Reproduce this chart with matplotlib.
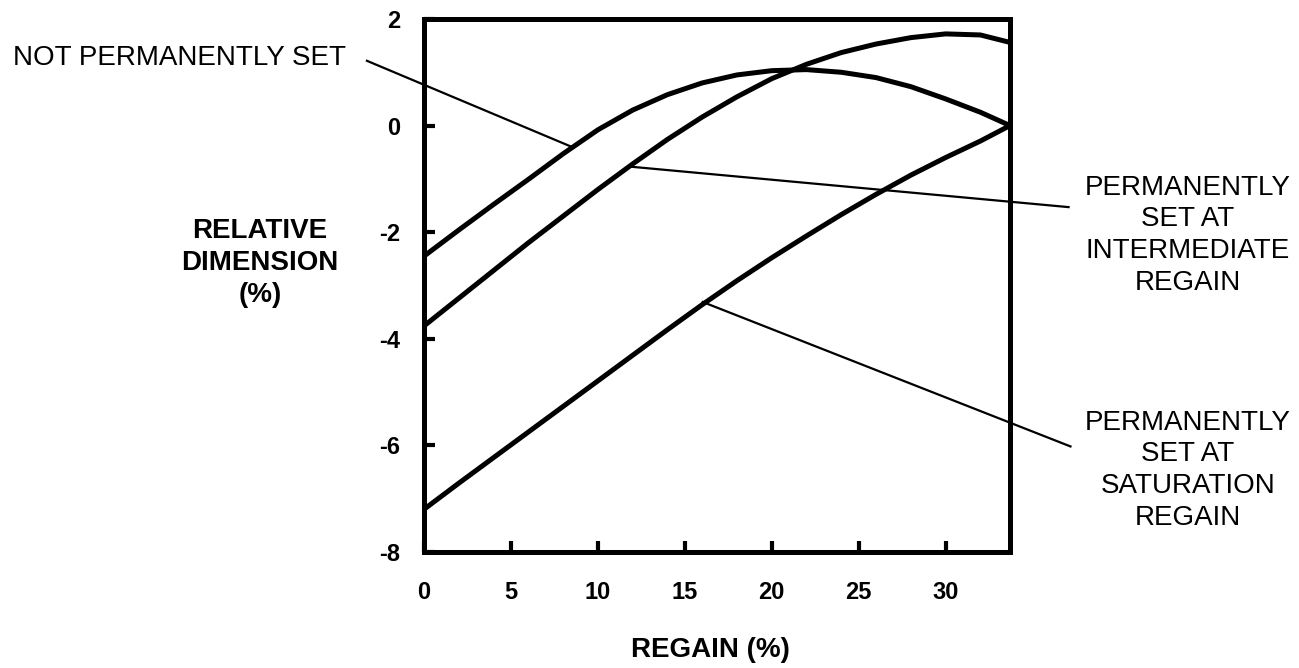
import numpy as np
import matplotlib.pyplot as plt

plt.rcParams['font.family'] = ['Liberation Sans', 'DejaVu Sans']
plt.rcParams['axes.unicode_minus'] = False

# regain (%) and relative dimension (%)
regain = [0, 2, 4, 6, 8, 10, 12, 14, 16, 18, 20, 22, 24, 26, 28, 30, 32, 33.7]
not_set = [-2.45, -1.96, -1.48, -1.01, -0.53, -0.08, 0.29, 0.58, 0.8, 0.95,
           1.03, 1.05, 1.0, 0.9, 0.73, 0.5, 0.25, 0.0]
set_intermediate = [-3.76, -3.24, -2.72, -2.2, -1.7, -1.2, -0.72, -0.26, 0.16, 0.54,
                    0.88, 1.15, 1.37, 1.53, 1.65, 1.72, 1.7, 1.56]
set_saturation = [-7.2, -6.71, -6.23, -5.75, -5.27, -4.79, -4.31, -3.83, -3.36, -2.91,
                  -2.48, -2.07, -1.67, -1.29, -0.93, -0.6, -0.29, 0.0]

xticks = [0, 5, 10, 15, 20, 25, 30]
yticks = [-8, -6, -4, -2, 0, 2]

fig = plt.figure(figsize=(12.99, 6.68), dpi=100)
ax = fig.add_axes([0.3264, 0.1737, 0.4511, 0.7979])

for ys in (not_set, set_intermediate, set_saturation):
    ax.plot(regain, ys, color='black', lw=3.6, solid_capstyle='butt',
            solid_joinstyle='round')

ax.set_xlim(0, 33.7)
ax.set_ylim(-8, 2)
ax.set_xticks(xticks)
ax.set_yticks(yticks)
ax.tick_params(direction='in', length=8, width=3, labelsize=17)
ax.tick_params(axis='x', pad=21)
ax.tick_params(axis='y', pad=17)
for lab in ax.get_xticklabels() + ax.get_yticklabels():
    lab.set_fontweight('bold')
for s in ax.spines.values():
    s.set_linewidth(3.6)

# leader lines from the labels to the curves
def leader(x0, y0, x1, y1):
    ax.plot([x0, x1], [y0, y1], color='black', lw=1.6, clip_on=False)

leader(-3.28, 1.215, 8.5, -0.4)
leader(11.84, -0.77, 37.07, -1.53)
leader(16.03, -3.31, 37.18, -6.02)

fig.text(0.01, 0.913, 'NOT PERMANENTLY SET', fontsize=20, ha='left', va='center')
fig.text(0.9145, 0.648, 'PERMANENTLY\nSET AT\nINTERMEDIATE\nREGAIN', fontsize=20,
         ha='center', va='center', linespacing=1.28)
fig.text(0.9145, 0.296, 'PERMANENTLY\nSET AT\nSATURATION\nREGAIN', fontsize=20,
         ha='center', va='center', linespacing=1.28)

fig.text(0.2, 0.606, 'RELATIVE\nDIMENSION\n(%)', fontsize=20, fontweight='bold',
         ha='center', va='center', linespacing=1.3)
fig.text(0.547, 0.027, 'REGAIN (%)', fontsize=20, fontweight='bold',
         ha='center', va='center')

fig.savefig('out.png', dpi=100)
